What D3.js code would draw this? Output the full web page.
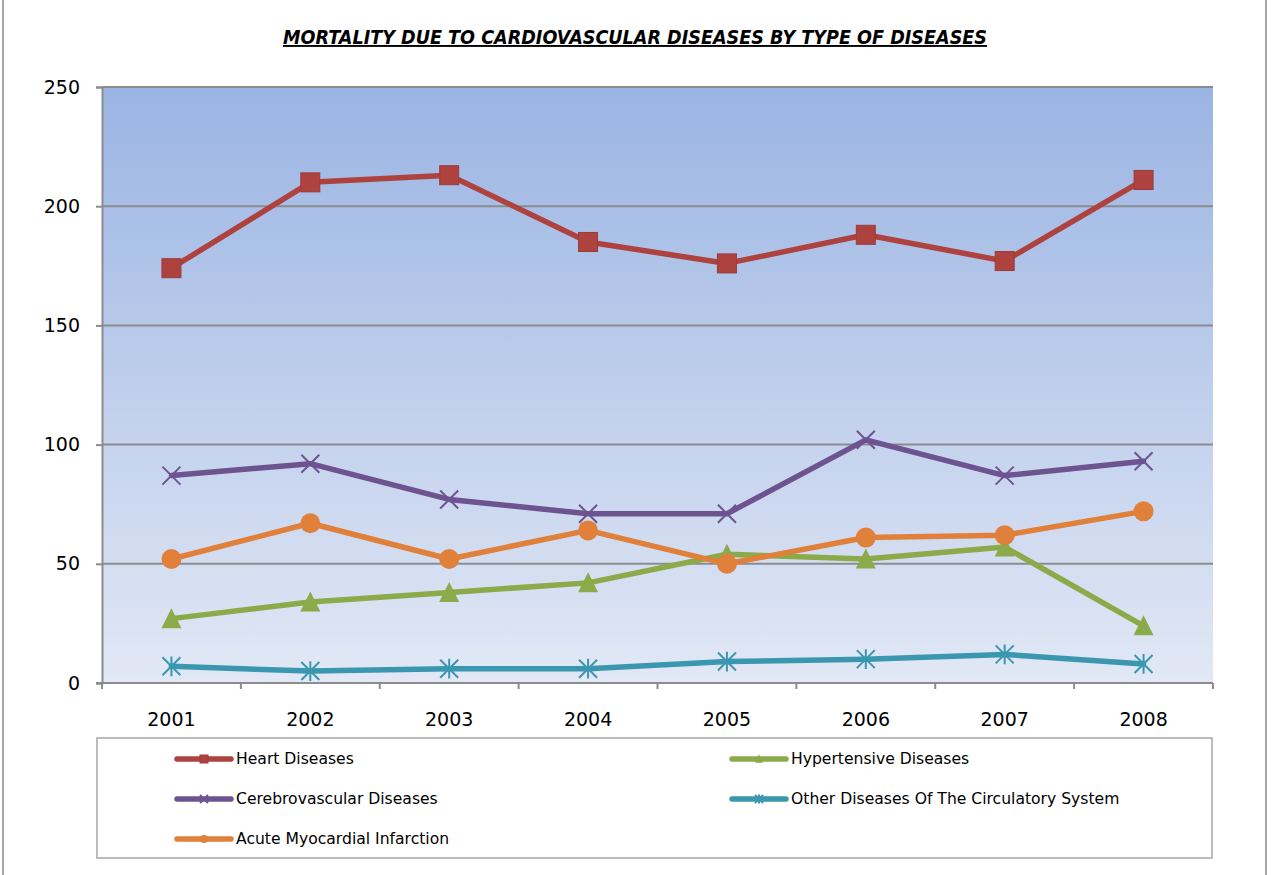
<!DOCTYPE html>
<html>
<head>
<meta charset="utf-8">
<script src="https://cdn.jsdelivr.net/npm/d3@7"></script>
<style>
  body { margin: 0; background: #fff; }
  svg { display: block; font-family: "DejaVu Sans", sans-serif; }
</style>
</head>
<body>
<div id="chart"></div>
<script>
const years = ["2001", "2002", "2003", "2004", "2005", "2006", "2007", "2008"];
const heart = [174, 210, 213, 185, 176, 188, 177, 211];
const hypertensive = [27, 34, 38, 42, 54, 52, 57, 24];
const cerebro = [87, 92, 77, 71, 71, 102, 87, 93];
const otherCirc = [7, 5, 6, 6, 9, 10, 12, 8];
const acuteMI = [52, 67, 52, 64, 50, 61, 62, 72];
const yTicks = [0, 50, 100, 150, 200, 250];

const series = [
  { name: "Heart Diseases", values: heart, color: "#AE423F", marker: "square" },
  { name: "Hypertensive Diseases", values: hypertensive, color: "#8BAA4A", marker: "triangle" },
  { name: "Cerebrovascular Diseases", values: cerebro, color: "#6D5490", marker: "x" },
  { name: "Other Diseases Of The Circulatory System", values: otherCirc, color: "#3B97AF", marker: "star" },
  { name: "Acute Myocardial Infarction", values: acuteMI, color: "#E0803A", marker: "circle" }
];

const W = 1274, H = 875;
const plot = { left: 102, right: 1213, top: 87, bottom: 683 };

const svg = d3.select("#chart").append("svg")
  .attr("width", W).attr("height", H);

// outer chart frame
svg.append("rect")
  .attr("x", 3).attr("y", -2).attr("width", 1263).attr("height", H + 4)
  .attr("fill", "#fff").attr("stroke", "#a6a6a6").attr("stroke-width", 2);

const x = d3.scaleBand().domain(years).range([plot.left, plot.right]);
const y = d3.scaleLinear().domain([0, 250]).range([plot.bottom, plot.top]);

// plot background gradient
const defs = svg.append("defs");
const grad = defs.append("linearGradient").attr("id", "bg")
  .attr("x1", 0).attr("y1", 0).attr("x2", 0).attr("y2", 1);
grad.append("stop").attr("offset", "0%").attr("stop-color", "#9AB4E3");
grad.append("stop").attr("offset", "100%").attr("stop-color", "#E2E8F5");

svg.append("rect")
  .attr("x", plot.left).attr("y", plot.top)
  .attr("width", plot.right - plot.left).attr("height", plot.bottom - plot.top)
  .attr("fill", "url(#bg)");

// gridlines
svg.append("g").selectAll("line").data(yTicks.filter(d => d > 0)).join("line")
  .attr("x1", plot.left).attr("x2", plot.right)
  .attr("y1", d => y(d)).attr("y2", d => y(d))
  .attr("stroke", "#8c8c8c").attr("stroke-width", 2);

// y axis
const yAxis = svg.append("g")
  .attr("transform", `translate(${plot.left},0)`)
  .call(d3.axisLeft(y).tickValues(yTicks).tickSize(6).tickPadding(16));
yAxis.select(".domain").attr("stroke", "#8c8c8c").attr("stroke-width", 2);
yAxis.selectAll(".tick line").attr("stroke", "#8c8c8c").attr("stroke-width", 2);
yAxis.selectAll("text").attr("font-size", 19).attr("fill", "#000")
  .attr("font-family", "DejaVu Sans");

// x axis
const xAxis = svg.append("g")
  .attr("transform", `translate(0,${plot.bottom})`)
  .call(d3.axisBottom(x).tickSize(0).tickPadding(30));
xAxis.select(".domain").attr("stroke", "#8c8c8c").attr("stroke-width", 2)
  .attr("d", `M${plot.left - 6},0H${plot.right}`);
xAxis.selectAll("text").attr("font-size", 19).attr("fill", "#000")
  .attr("font-family", "DejaVu Sans");
const bounds = years.map(d => x(d)).concat([plot.right]);
xAxis.append("g").selectAll("line").data(bounds).join("line")
  .attr("x1", d => d).attr("x2", d => d).attr("y1", 0).attr("y2", 6)
  .attr("stroke", "#8c8c8c").attr("stroke-width", 2);

// markers
function drawMarker(g, type, color, s) {
  if (type === "square") {
    g.append("rect").attr("x", -s / 2).attr("y", -s / 2).attr("width", s).attr("height", s)
      .attr("fill", color).attr("stroke", d3.color(color).darker(0.3)).attr("stroke-width", 1);
  } else if (type === "triangle") {
    const h = s * 0.95;
    g.append("path").attr("d", `M0,${-h / 2 - 1}L${s / 2},${h / 2}L${-s / 2},${h / 2}Z`)
      .attr("fill", color);
  } else if (type === "circle") {
    g.append("circle").attr("r", s / 2).attr("fill", color);
  } else if (type === "x") {
    const r = s / 2;
    g.append("path").attr("d", `M${-r},${-r}L${r},${r}M${-r},${r}L${r},${-r}`)
      .attr("stroke", color).attr("stroke-width", 2).attr("fill", "none");
  } else if (type === "star") {
    const r = s / 2;
    g.append("path")
      .attr("d", `M${-r},${-r}L${r},${r}M${-r},${r}L${r},${-r}M0,${-r * 1.1}L0,${r * 1.1}`)
      .attr("stroke", color).attr("stroke-width", 2).attr("fill", "none");
  }
}

const line = d3.line()
  .x((d, i) => x(years[i]) + x.bandwidth() / 2)
  .y(d => y(d));

const sizes = { square: 19, triangle: 20, circle: 20, x: 18, star: 18 };

series.forEach(s => {
  const g = svg.append("g");
  g.append("path").datum(s.values)
    .attr("d", line).attr("fill", "none")
    .attr("stroke", s.color).attr("stroke-width", 5.5)
    .attr("stroke-linejoin", "round").attr("stroke-linecap", "round");
  g.selectAll("g.m").data(s.values).join("g")
    .attr("class", "m")
    .attr("transform", (d, i) => `translate(${x(years[i]) + x.bandwidth() / 2},${y(d)})`)
    .each(function () { drawMarker(d3.select(this), s.marker, s.color, sizes[s.marker]); });
});

// title
svg.append("text")
  .attr("x", 283).attr("y", 44)
  .attr("font-size", 19).attr("font-weight", "bold").attr("font-style", "italic")
  .attr("text-decoration", "underline")
  .attr("textLength", 704).attr("lengthAdjust", "spacingAndGlyphs")
  .text("MORTALITY DUE TO CARDIOVASCULAR DISEASES BY TYPE OF DISEASES");

// legend
svg.append("rect")
  .attr("x", 97).attr("y", 738).attr("width", 1115).attr("height", 120)
  .attr("fill", "#fff").attr("stroke", "#a6a6a6").attr("stroke-width", 1.5);

const legendCols = [177, 732];
const legendRows = [759, 799, 839];
series.forEach((s, i) => {
  const lx = legendCols[i % 2], ly = legendRows[Math.floor(i / 2)];
  const g = svg.append("g").attr("transform", `translate(${lx},${ly})`);
  g.append("line").attr("x1", 0).attr("x2", 54).attr("y1", 0).attr("y2", 0)
    .attr("stroke", s.color).attr("stroke-width", 5.5).attr("stroke-linecap", "round");
  const m = g.append("g").attr("transform", "translate(27,0)");
  drawMarker(m, s.marker, s.color, 8);
  g.append("text").attr("x", 59).attr("y", 0).attr("dy", "0.35em")
    .attr("font-size", 15.6).attr("fill", "#000").text(s.name);
});
</script>
</body>
</html>
